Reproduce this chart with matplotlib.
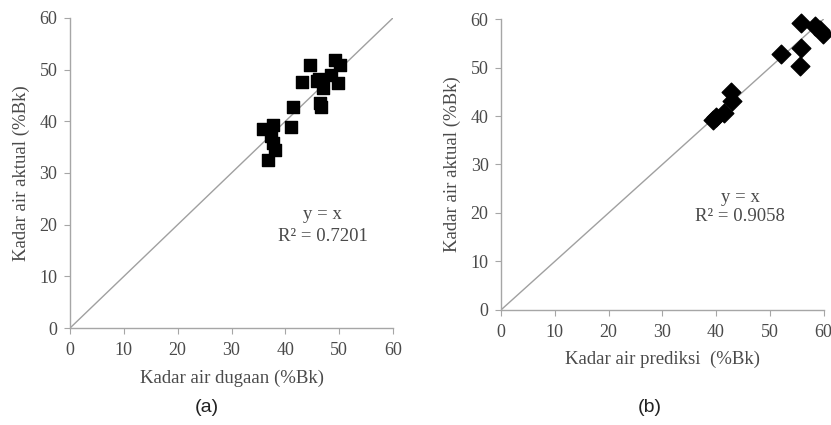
import matplotlib
matplotlib.use("Agg")
import matplotlib.pyplot as plt

# Panel (a) data
a_x = [35.9, 37.7, 37.4, 37.7, 38.0, 36.8, 41.1, 41.5, 43.0, 44.5, 45.8, 46.2, 47.0, 46.4, 46.7, 49.2, 50.1, 48.5, 49.8]
a_y = [38.6, 39.3, 37.2, 35.8, 34.5, 32.6, 38.8, 42.7, 47.5, 50.9, 47.7, 48.1, 46.4, 43.5, 42.8, 51.9, 50.9, 49.0, 47.4]

# Panel (b) data
b_x = [39.5, 40.0, 41.4, 42.8, 43.0, 52.1, 55.6, 55.9, 55.8, 58.5, 59.3, 59.9]
b_y = [39.1, 39.8, 40.6, 45.0, 43.2, 52.7, 50.4, 54.0, 59.2, 58.6, 57.8, 57.0]

ticks = [0, 10, 20, 30, 40, 50, 60]
line_pts = [0, 60]

serif = ["Liberation Serif", "DejaVu Serif"]
gray_txt = "#4a4a4a"
axis_gray = "#a6a6a6"

fig = plt.figure(figsize=(8.31, 4.25), dpi=100)
ax1 = fig.add_axes([0.0842, 0.228, 0.473 - 0.0842, 0.958 - 0.228])
ax2 = fig.add_axes([0.603, 0.271, 0.991 - 0.603, 0.955 - 0.271])


def style(ax, xlabel, ylabel, xpad, ypad):
    ax.set_xlim(0, 60)
    ax.set_ylim(0, 60)
    ax.set_xticks(ticks)
    ax.set_yticks(ticks)
    for s in ["top", "right"]:
        ax.spines[s].set_visible(False)
    for s in ["left", "bottom"]:
        ax.spines[s].set_color(axis_gray)
        ax.spines[s].set_linewidth(1.0)
    ax.tick_params(direction="out", length=4, color=axis_gray, labelcolor=gray_txt, labelsize=13)
    ax.tick_params(axis="x", pad=6)
    ax.tick_params(axis="y", pad=5)
    for lab in ax.get_xticklabels() + ax.get_yticklabels():
        lab.set_family(serif)
    ax.set_xlabel(xlabel, family=serif, fontsize=13.5, color=gray_txt, labelpad=xpad)
    ax.set_ylabel(ylabel, family=serif, fontsize=13.5, color=gray_txt, labelpad=ypad)


ax1.plot(line_pts, line_pts, color="#a0a0a0", lw=1.0, zorder=1)
ax1.scatter(a_x, a_y, marker="s", s=75, color="black", zorder=2, clip_on=False)
style(ax1, "Kadar air dugaan (%Bk)", "Kadar air aktual (%Bk)", 8, 7)
ax1.text(46.9, 21.9, "y = x", ha="center", va="center", family=serif, fontsize=13.5, color=gray_txt)
ax1.text(46.9, 17.7, "R² = 0.7201", ha="center", va="center", family=serif, fontsize=13.5, color=gray_txt)

ax2.plot(line_pts, line_pts, color="#a0a0a0", lw=1.0, zorder=1)
ax2.scatter(b_x, b_y, marker="D", s=90, color="black", zorder=2, clip_on=False)
style(ax2, "Kadar air prediksi  (%Bk)", "Kadar air aktual (%Bk)", 7, 7)
ax2.text(44.5, 23.1, "y = x", ha="center", va="center", family=serif, fontsize=13.5, color=gray_txt)
ax2.text(44.5, 19.2, "R² = 0.9058", ha="center", va="center", family=serif, fontsize=13.5, color=gray_txt)

fig.text(207 / 831, 1 - 407 / 425, "(a)", ha="center", va="center", family=["Liberation Sans", "DejaVu Sans"], fontsize=14, color="#222222")
fig.text(650 / 831, 1 - 407 / 425, "(b)", ha="center", va="center", family=["Liberation Sans", "DejaVu Sans"], fontsize=14, color="#222222")

fig.savefig("out.png", dpi=100)
